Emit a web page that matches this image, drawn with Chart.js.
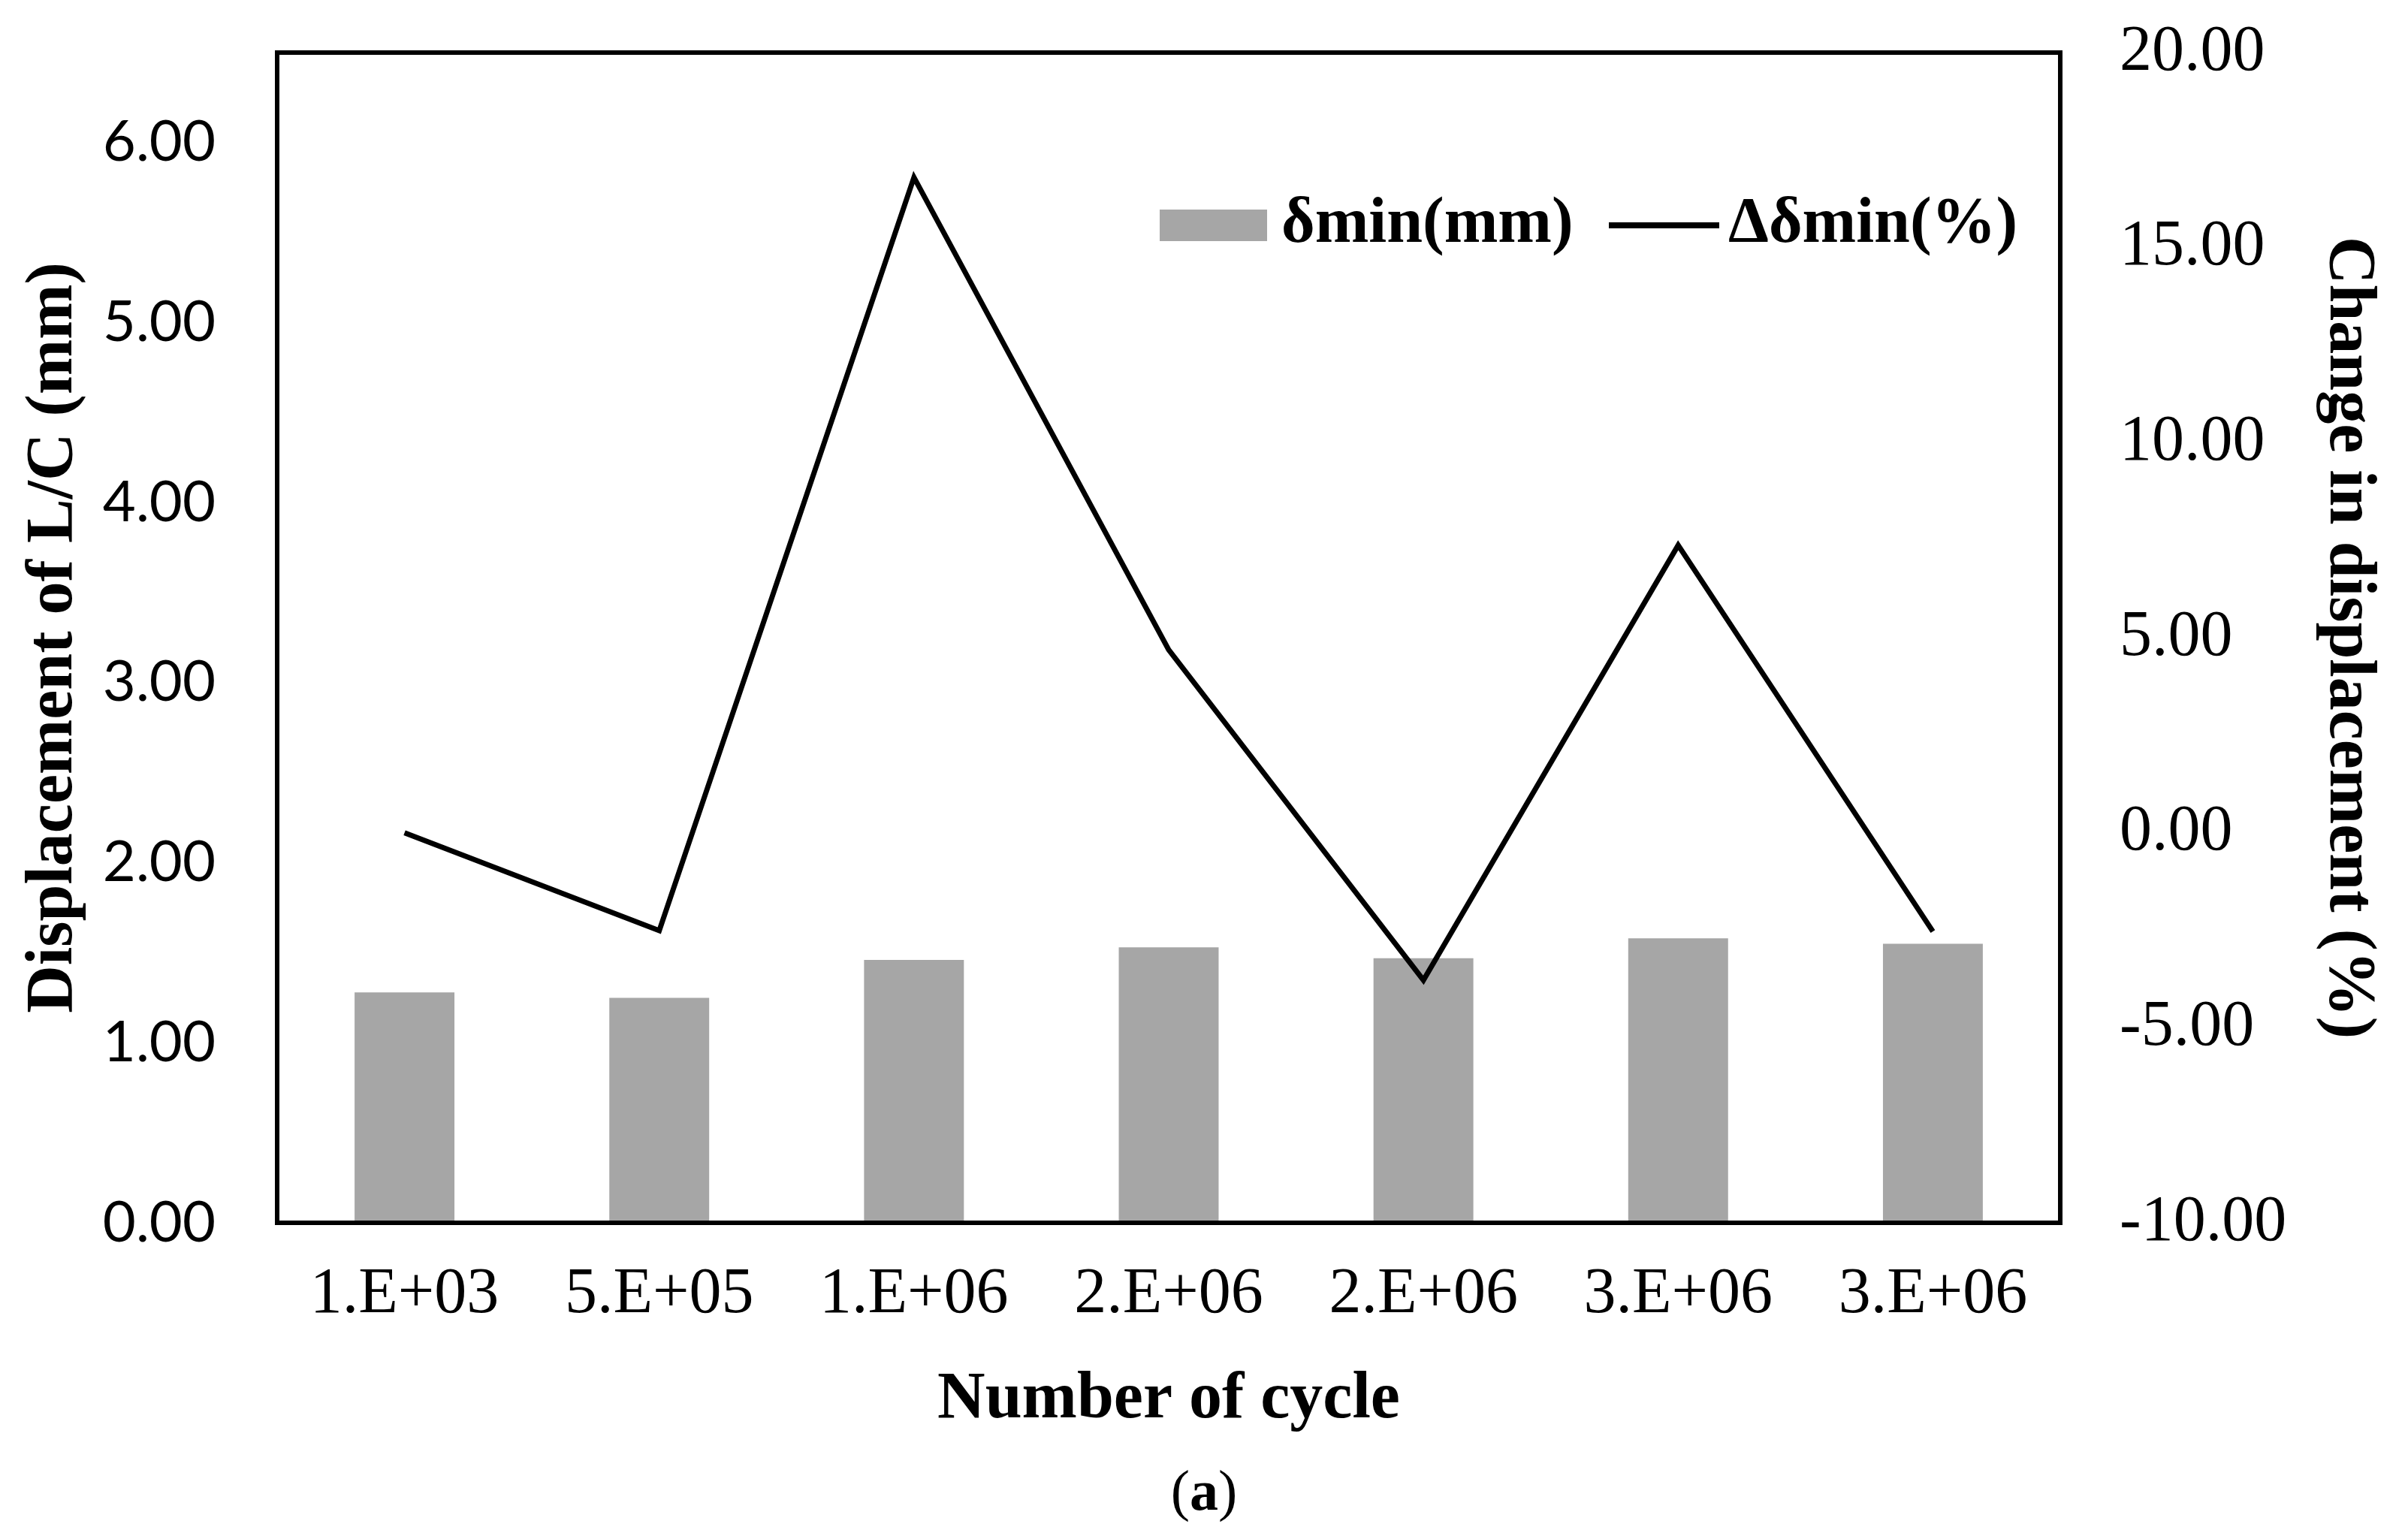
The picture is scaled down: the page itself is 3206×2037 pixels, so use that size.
<!DOCTYPE html>
<html>
<head>
<meta charset="utf-8">
<script src="https://cdn.jsdelivr.net/npm/chart.js@4/dist/chart.umd.min.js"></script>
<style>
  html, body { margin: 0; padding: 0; background: #fff; }
  #wrap { width: 3206px; height: 2037px; }
</style>
</head>
<body>
<div id="wrap"><canvas id="canvasCycle" width="3206" height="2037"></canvas></div>
<script>
/*///////////////////////////////////////////////////////////
資料
///////////////////////////////////////////////////////////*/
var labels = ['1.E+03', '5.E+05', '1.E+06', '2.E+06', '2.E+06', '3.E+06', '3.E+06'];
var dispMin = [1.28, 1.25, 1.46, 1.53, 1.47, 1.58, 1.55];        // δmin(mm)
var changeMin = [0.00, -2.51, 16.80, 4.69, -3.78, 7.37, -2.53];  // Δδmin(%)
var leftTicks = [0, 1, 2, 3, 4, 5, 6];
var rightTicks = [-10, -5, 0, 5, 10, 15, 20];

var serif = '"Liberation Serif", "Times New Roman", serif';

/*///////////////////////////////////////////////////////////
外框 + 圖例 + (a)
///////////////////////////////////////////////////////////*/
var framePlugin = {
    id: 'frame',
    afterDatasetsDraw: function (chart) {
        var ctx = chart.ctx, a = chart.chartArea;
        ctx.save();
        ctx.strokeStyle = '#000';
        ctx.lineWidth = 6;
        ctx.strokeRect(a.left, a.top, a.right - a.left, a.bottom - a.top);
        ctx.restore();
    },
    afterDraw: function (chart) {
        var ctx = chart.ctx, a = chart.chartArea;
        var ds = chart.data.datasets;
        var y = a.top + 230;
        ctx.save();
        ctx.font = 'bold 86px ' + serif;
        ctx.textBaseline = 'middle';
        ctx.textAlign = 'left';
        // bar item
        ctx.fillStyle = ds[1].backgroundColor;
        ctx.fillRect(a.left + 1175, y - 21, 143, 42);
        ctx.fillStyle = '#000';
        ctx.fillText(ds[1].label, a.left + 1337, y);
        // line item
        ctx.strokeStyle = ds[0].borderColor;
        ctx.lineWidth = 8;
        ctx.beginPath();
        ctx.moveTo(a.left + 1773, y);
        ctx.lineTo(a.left + 1920, y);
        ctx.stroke();
        ctx.fillText(ds[0].label, a.left + 1932, y);

        // (a)
        var cx = 1603, cy = 1990;
        ctx.font = '76px ' + serif;
        var wp = ctx.measureText('(').width;
        ctx.font = 'bold 76px ' + serif;
        var wa = ctx.measureText('a').width;
        var x0 = cx - (wp * 2 + wa) / 2;
        ctx.font = '76px ' + serif;
        ctx.fillText('(', x0, cy);
        ctx.fillText(')', x0 + wp + wa, cy);
        ctx.font = 'bold 76px ' + serif;
        ctx.fillText('a', x0 + wp, cy);
        ctx.restore();
    }
};

// 透明刻度線只用來推開標籤
function hiddenGrid(len) {
    return { display: true, drawOnChartArea: false, drawTicks: true, tickLength: len, color: 'rgba(0,0,0,0)' };
}

/*///////////////////////////////////////////////////////////
圖表
///////////////////////////////////////////////////////////*/
var ctx = document.getElementById('canvasCycle').getContext('2d');
var cycleChart = new Chart(ctx, {
    data: {
        labels: labels,
        datasets: [{
            type: 'line',
            label: 'Δδmin(%)',
            data: changeMin,
            yAxisID: 'y1',
            borderColor: '#000',
            borderWidth: 7,
            pointRadius: 0,
            tension: 0,
            fill: false,
            order: 1
        }, {
            type: 'bar',
            label: 'δmin(mm)',
            data: dispMin,
            yAxisID: 'y',
            backgroundColor: '#a6a6a6',
            categoryPercentage: 1,
            barPercentage: 0.392,
            order: 2
        }]
    },
    options: {
        responsive: false,
        animation: false,
        devicePixelRatio: 1,
        layout: { padding: { left: 0, right: 0, top: 70, bottom: 120 } },
        plugins: {
            legend: { display: false },
            tooltip: { enabled: false }
        },
        scales: {
            x: {
                position: 'bottom',
                grid: hiddenGrid(45),
                border: { display: false },
                ticks: { color: '#000', padding: 0, font: { family: serif, size: 86 } },
                title: {
                    display: true, text: 'Number of cycle', color: '#000',
                    font: { family: serif, size: 88, weight: 'bold' },
                    padding: { top: 0, bottom: 0 }
                },
                afterFit: function (s) { s.height = 289; }
            },
            y: {
                position: 'left',
                min: 0, max: 6.5,
                afterBuildTicks: function (s) {
                    s.ticks = leftTicks.map(function (v) { return { value: v }; });
                },
                grid: hiddenGrid(82),
                border: { display: false },
                ticks: {
                    color: '#000', padding: 0,
                    font: { family: 'Lato, "Open Sans", sans-serif', size: 76 },
                    callback: function (v) { return Number(v).toFixed(2); }
                },
                title: {
                    display: true, text: 'Displacement of L/C (mm)', color: '#000',
                    font: { family: serif, size: 88, weight: 'bold' },
                    padding: { top: 19, bottom: 0 }
                },
                afterFit: function (s) { s.width = 369; }
            },
            y1: {
                position: 'right',
                min: -10, max: 20,
                afterBuildTicks: function (s) {
                    s.ticks = rightTicks.map(function (v) { return { value: v }; });
                },
                grid: hiddenGrid(79),
                border: { display: false },
                ticks: {
                    color: '#000', padding: 0,
                    font: { family: serif, size: 86 },
                    callback: function (v) { return Number(v).toFixed(2); }
                },
                title: {
                    display: true, text: 'Change in displacement (%)', color: '#000',
                    font: { family: serif, size: 88, weight: 'bold' },
                    padding: { top: 27, bottom: 0 }
                },
                afterFit: function (s) { s.width = 463; }
            }
        }
    },
    plugins: [framePlugin]
});
</script>
</body>
</html>
